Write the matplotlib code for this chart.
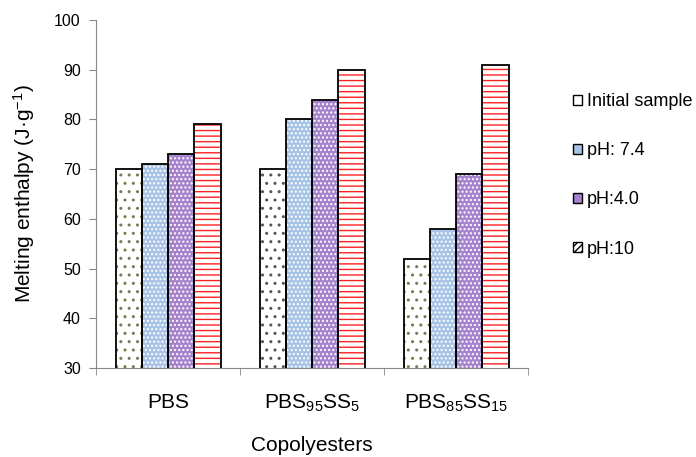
import matplotlib
matplotlib.use("Agg")
import matplotlib.pyplot as plt
import matplotlib.patches as mpatches
import numpy as np

plt.rcParams.update({
    "font.family": "Liberation Sans",
    "mathtext.default": "regular",
    "hatch.linewidth": 1.0,
})

categories = [r"PBS", r"PBS$_{95}$SS$_{5}$", r"PBS$_{85}$SS$_{15}$"]
series = ["Initial sample", "pH: 7.4", "pH:4.0", "pH:10"]
initial = [70, 70, 52]
ph74 = [71, 80, 58]
ph40 = [73, 84, 69]
ph10 = [79, 90, 91]
values = [initial, ph74, ph40, ph10]

# fill, hatch, hatch colour per series
styles = [
    ("white", "..", ["#6f7f4f", "#555555", "#6f7f4f"]),
    ("#a9c3e6", "....", ["#ffffff"] * 3),
    ("#a582cc", "....", ["#ffffff"] * 3),
    ("white", "---", ["#ff2020"] * 3),
]

fig = plt.figure(figsize=(6.96, 4.57), dpi=100)
ax = fig.add_axes([0.138, 0.195, 0.621, 0.761])

x = np.arange(len(categories))
w = 0.182
for i, (vals, (fc, hatch, hc)) in enumerate(zip(values, styles)):
    pos = x + (i - 1.5) * w
    ax.bar(pos, vals, w, bottom=0, color=fc, edgecolor=hc, hatch=hatch,
           linewidth=0, zorder=2)
    ax.bar(pos, vals, w, fill=False, edgecolor="black", linewidth=1.3, zorder=3)

ax.set_ylim(30, 100)
ax.set_xlim(-0.5, 2.5)
ax.set_yticks(range(30, 101, 10))
ax.set_xticks(x)
ax.set_xticklabels(categories, fontsize=15)
ax.set_xticks([-0.5, 0.5, 1.5, 2.5], minor=True)
ax.tick_params(axis="x", which="major", length=0, pad=18)
ax.tick_params(axis="x", which="minor", length=5, color="#888888")
ax.tick_params(axis="y", labelsize=11.5, length=5, color="#888888", pad=6)

for s in ["top", "right"]:
    ax.spines[s].set_visible(False)
for s in ["left", "bottom"]:
    ax.spines[s].set_color("#888888")

ax.set_ylabel(r"Melting enthalpy (J·g$^{-1}$)", fontsize=15, labelpad=12)
ax.set_xlabel("Copolyesters", fontsize=15, labelpad=16)

handles = [
    mpatches.Patch(facecolor="white", edgecolor="black", linewidth=1),
    mpatches.Patch(facecolor="#a9c3e6", edgecolor="black", linewidth=1),
    mpatches.Patch(facecolor="#a582cc", edgecolor="black", linewidth=1),
    mpatches.Patch(facecolor="white", edgecolor="black", hatch="/////", linewidth=1),
]
fig.legend(handles, series, loc="upper left", bbox_to_anchor=(0.811, 0.816),
           frameon=False, fontsize=13, handlelength=0.45, handleheight=0.45,
           handletextpad=0.3, labelspacing=1.78, borderpad=0)

fig.savefig("out.png", dpi=100)
